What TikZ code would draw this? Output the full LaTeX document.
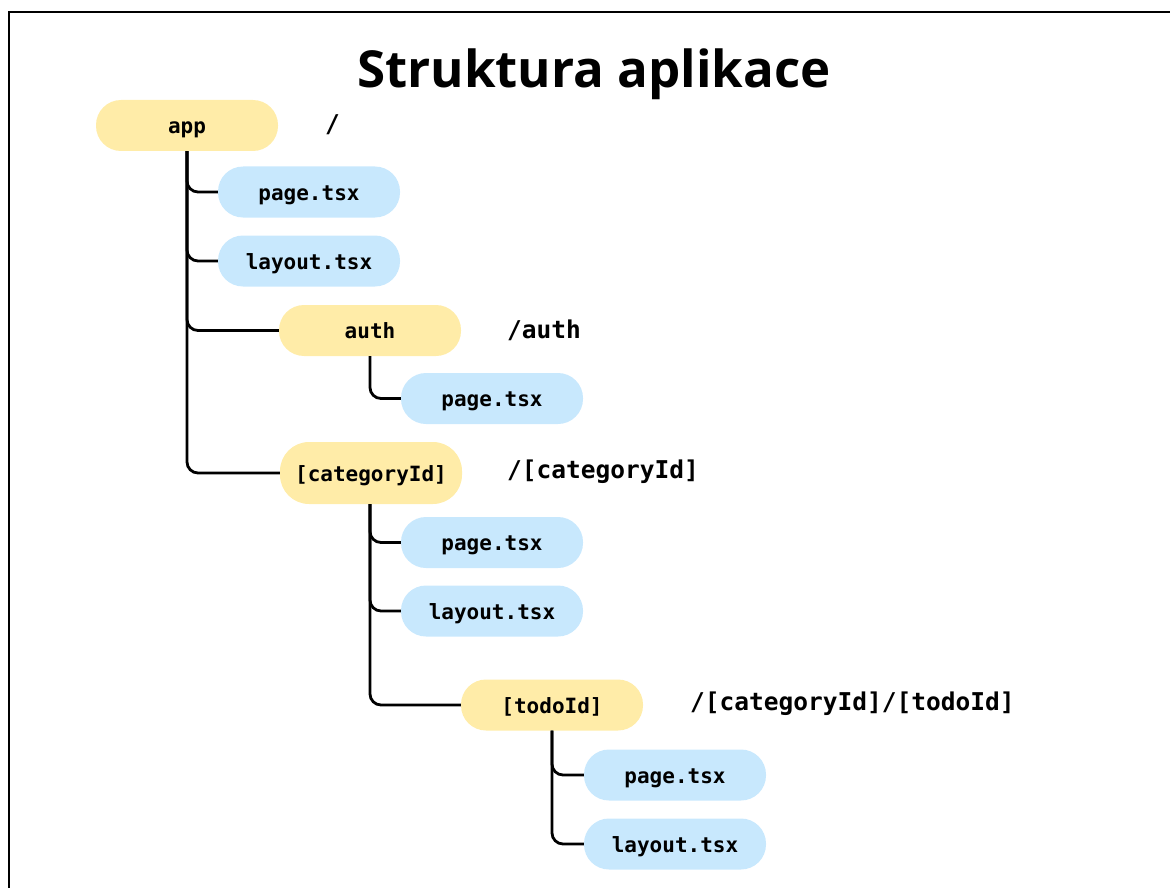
\documentclass[tikz,border=0pt]{standalone}
\usepackage{fontspec}
\setmainfont{Open Sans}
\setmonofont{DejaVu Sans Mono}
\definecolor{diryellow}{RGB}{255,236,168}
\definecolor{fileblue}{RGB}{200,232,253}
\begin{document}
\begin{tikzpicture}[x=1pt,y=-1pt,
  box/.style={rounded corners=25pt, minimum width=182pt, minimum height=51pt, inner sep=0pt,
    font=\fontsize{21}{24}\selectfont\ttfamily\bfseries, text height=16.5pt, text depth=0pt},
  dirbox/.style={box, fill=diryellow},
  filebox/.style={box, fill=fileblue},
  routelbl/.style={anchor=west, inner sep=0pt, font=\fontsize{24.5}{28}\selectfont\ttfamily\bfseries},
  conn/.style={line width=2.8pt, rounded corners=11pt, black}]
\useasboundingbox (0,0) rectangle (1170,888);
\draw[line width=2pt] (9,888) -- (9,12.5) -- (1170,12.5);
\node[font=\fontsize{51}{58}\selectfont\bfseries, anchor=base, inner sep=0pt] (title) at (594,88) {Struktura aplikace};

\node[dirbox] (app) at (187,125.5) {app};
\node[filebox] (p1) at (309,192) {page.tsx};
\node[filebox] (l1) at (309,261) {layout.tsx};
\node[dirbox] (auth) at (370,330.5) {auth};
\node[filebox] (p2) at (492,398.5) {page.tsx};
\node[dirbox, minimum height=62pt, rounded corners=29pt] (cat) at (371,473) {[categoryId]};
\node[filebox] (p3) at (492,542.5) {page.tsx};
\node[filebox] (l3) at (492,611) {layout.tsx};
\node[dirbox] (todo) at (552,705) {[todoId]};
\node[filebox] (p4) at (675,775) {page.tsx};
\node[filebox] (l4) at (675,844) {layout.tsx};

\node[routelbl] (r1) at (325,125) {/};
\node[routelbl] (r2) at (507,330) {/auth};
\node[routelbl] (r3) at (507,472) {/[categoryId]};
\node[routelbl] (r4) at (690,704) {/[categoryId]/[todoId]};

\draw[conn] (app.south) |- (p1.west);
\draw[conn] (app.south) |- (l1.west);
\draw[conn] (app.south) |- (auth.west);
\draw[conn] (app.south) |- (cat.west);
\draw[conn] (auth.south -| 370,0) |- (p2.west);
\draw[conn] (cat.south -| 370,0) |- (p3.west);
\draw[conn] (cat.south -| 370,0) |- (l3.west);
\draw[conn] (cat.south -| 370,0) |- (todo.west);
\draw[conn] (todo.south) |- (p4.west);
\draw[conn] (todo.south) |- (l4.west);
\end{tikzpicture}
\end{document}
